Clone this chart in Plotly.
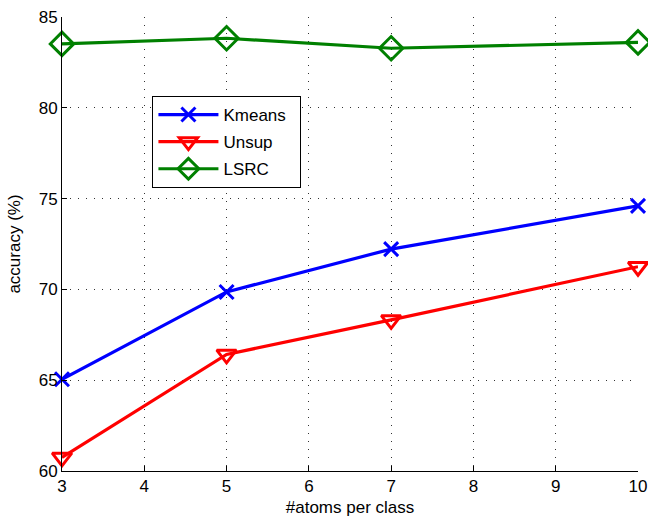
import plotly.graph_objects as go

atoms = [3, 5, 7, 10]
kmeans = [65.05, 69.86, 72.22, 74.6]
unsup = [60.75, 66.42, 68.32, 71.25]
lsrc = [83.52, 83.83, 83.28, 83.6]
names = ["Kmeans", "Unsup", "LSRC"]

x_ticks = [3, 4, 5, 6, 7, 8, 9, 10]
y_ticks = [60, 65, 70, 75, 80, 85]

FONT = "Liberation Sans, Arial, sans-serif"

fig = go.Figure()
series = [
    (names[0], kmeans, "#0000FF", "x-thin-open", 14),
    (names[1], unsup, "#FF0000", "triangle-down-open", 17),
    (names[2], lsrc, "#008000", "diamond-open", 18),
]
for i, (name, ys, col, sym, sz) in enumerate(series):
    label = name + ("\u00a0\u00a0" if i == 0 else "")
    fig.add_trace(go.Scatter(
        x=atoms, y=ys, name=label, mode="lines+markers", legendgroup=name,
        line=dict(color=col, width=3.2),
        marker=dict(symbol=sym, size=sz, color=col, line=dict(color=col, width=3)),
        cliponaxis=False,
    ))

axis_common = dict(
    showgrid=True, gridcolor="#333333", griddash="1px,7px", gridwidth=1,
    showline=True, linecolor="black", linewidth=1, mirror=False,
    ticks="inside", ticklen=5, tickcolor="black", zeroline=False,
    automargin=False,
    tickfont=dict(family=FONT, size=17, color="black"),
)

fig.update_layout(
    width=648, height=519,
    margin=dict(l=62, r=10, t=17, b=48),
    paper_bgcolor="white", plot_bgcolor="white",
    font=dict(family=FONT, color="black"),
    xaxis=dict(range=[3, 10], tickvals=x_ticks,
               title=dict(text="#atoms per class", font=dict(size=17), standoff=5),
               **axis_common),
    yaxis=dict(range=[60, 85], tickvals=y_ticks,
               title=dict(text="accuracy (%)", font=dict(size=17), standoff=13),
               **axis_common),
    legend=dict(x=0.157, y=0.826, xanchor="left", yanchor="top",
                bordercolor="black", borderwidth=1, bgcolor="white",
                font=dict(family=FONT, size=17, color="black"),
                itemwidth=60, tracegroupgap=2),
    showlegend=True,
)

fig.write_html("out.html", config={"displayModeBar": False},
               post_script="document.body.style.margin='0';")
